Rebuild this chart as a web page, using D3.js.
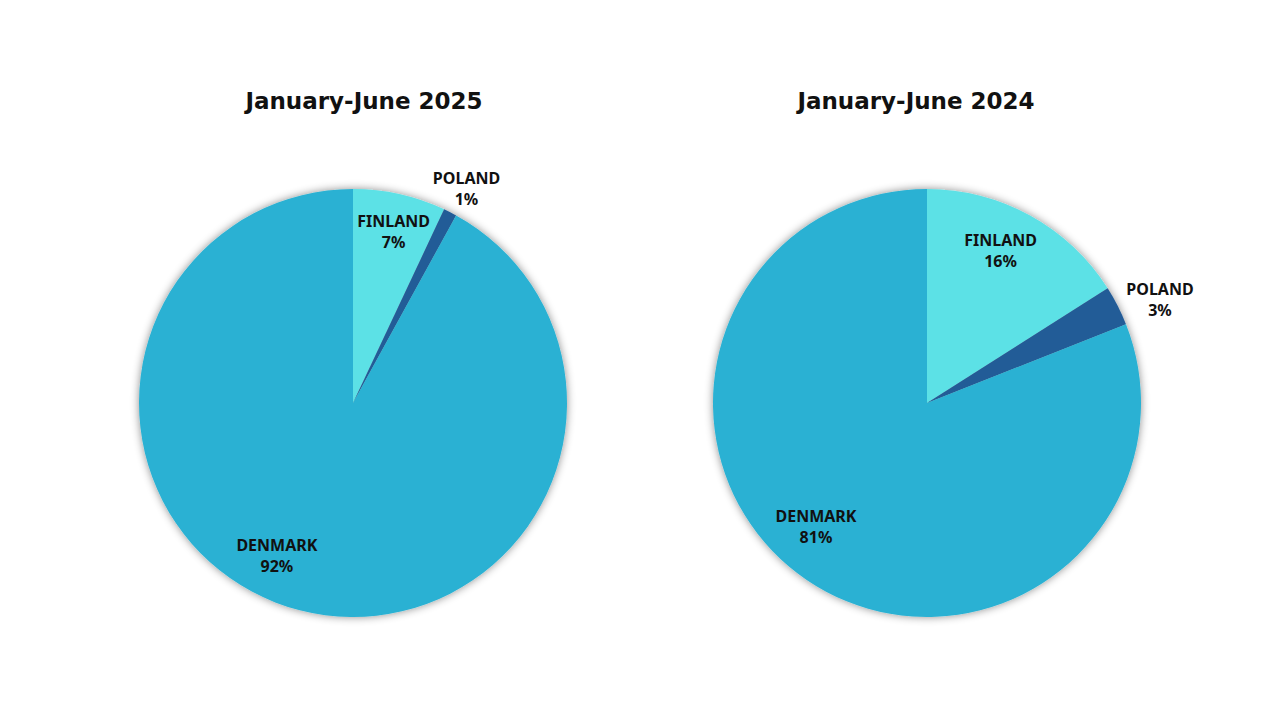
<!DOCTYPE html>
<html>
<head>
<meta charset="utf-8">
<script src="https://cdn.jsdelivr.net/npm/d3@7"></script>
<style>
  html, body { margin: 0; padding: 0; background: #ffffff; }
  svg { display: block; }
</style>
</head>
<body>
<svg id="chart" width="1280" height="720"></svg>
<script>
// ---- Data ----
const categories = ["FINLAND", "POLAND", "DENMARK"];
const titles = ["January-June 2025", "January-June 2024"];
const values2025 = [7, 1, 92];
const values2024 = [16, 3, 81];
const percentLabels2025 = ["7%", "1%", "92%"];
const percentLabels2024 = ["16%", "3%", "81%"];
const colors = ["#5CE1E6", "#235B97", "#29B1D3"];

// ---- Layout ----
const W = 1280, H = 720;
const radius = 214;
const centers = [[353, 403], [927, 403]];
const titleX = [364, 916];
const titleY = 109;
// label placement: [angle nudge (deg), radius factor] per category, per chart
const labelLayout = [
  [[0.8, 0.82], [1.0, 1.13], [12, 0.80]],
  [[-2.9, 0.787], [3.2, 1.19], [7.5, 0.78]]
];

const svg = d3.select("#chart");
const defs = svg.append("defs");
const f = defs.append("filter").attr("id", "shadow")
  .attr("x", "-10%").attr("y", "-10%").attr("width", "120%").attr("height", "120%");
f.append("feDropShadow").attr("dx", 0).attr("dy", 0).attr("stdDeviation", 4)
  .attr("flood-color", "#000").attr("flood-opacity", 0.45);

const color = d3.scaleOrdinal().domain(categories).range(colors);
const pie = d3.pie().sort(null).value(d => d.value);
const arc = d3.arc().innerRadius(0).outerRadius(radius);

const datasets = [
  { values: values2025, labels: percentLabels2025 },
  { values: values2024, labels: percentLabels2024 }
];

datasets.forEach((ds, i) => {
  const data = categories.map((c, k) => ({ cat: c, value: ds.values[k], pct: ds.labels[k] }));
  const arcs = pie(data);
  const g = svg.append("g").attr("transform", `translate(${centers[i][0]},${centers[i][1]})`);

  const slices = g.append("g").attr("filter", "url(#shadow)");
  slices.selectAll("path").data(arcs).join("path")
    .attr("d", arc)
    .attr("fill", d => color(d.data.cat));

  const labels = g.append("g");
  arcs.forEach((a, k) => {
    const [nudge, rf] = labelLayout[i][k];
    const mid = (a.startAngle + a.endAngle) / 2 + nudge * Math.PI / 180;
    const r = radius * rf;
    const x = Math.sin(mid) * r;
    const y = -Math.cos(mid) * r;
    const t = labels.append("text")
      .attr("x", x).attr("y", y)
      .attr("text-anchor", "middle")
      .attr("font-family", "'Noto Sans', 'DejaVu Sans', sans-serif")
      .attr("font-weight", 700)
      .attr("font-size", 16)
      .attr("fill", "#111");
    t.append("tspan").attr("x", x).attr("dy", "-0.35em").text(a.data.cat);
    t.append("tspan").attr("x", x).attr("dy", 21).text(a.data.pct);
  });

  svg.append("text")
    .attr("x", titleX[i]).attr("y", titleY)
    .attr("text-anchor", "middle")
    .attr("font-family", "'DejaVu Sans', sans-serif")
    .attr("font-weight", 700)
    .attr("font-size", 23)
    .attr("fill", "#111")
    .text(titles[i]);
});
</script>
</body>
</html>
